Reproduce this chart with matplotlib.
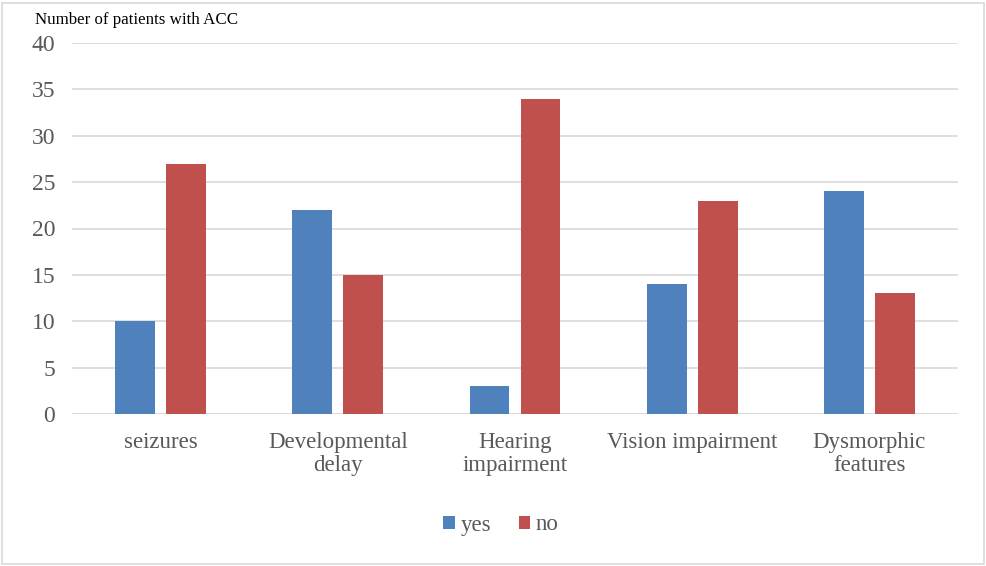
import matplotlib.pyplot as plt
import numpy as np
from matplotlib.patches import Rectangle

plt.rcParams["font.family"] = ["Liberation Serif", "DejaVu Serif"]

categories = ["seizures", "Developmental\ndelay", "Hearing\nimpairment",
              "Vision impairment", "Dysmorphic\nfeatures"]
yes_vals = [10, 22, 3, 14, 24]
no_vals = [27, 15, 34, 23, 13]

blue = "#4F81BD"
red = "#C0504D"
text_col = "#595959"

fig = plt.figure(figsize=(9.86, 5.66), dpi=100)
ax = fig.add_axes([72 / 986, 1 - 414 / 566, 886 / 986, 371 / 566])

x = np.arange(len(categories))
w = 0.225
off = 0.144
ax.bar(x - off, yes_vals, w, color=blue, label="yes", zorder=3)
ax.bar(x + off, no_vals, w, color=red, label="no", zorder=3)

ax.set_xlim(-0.5, len(categories) - 0.5)
ax.set_ylim(0, 40)
ax.set_yticks(range(0, 41, 5))
ax.yaxis.grid(True, color="#D9D9D9", linewidth=1.2, zorder=0)
for s in ax.spines.values():
    s.set_visible(False)
ax.axhline(0, color="#D9D9D9", linewidth=1.2, zorder=2)
ax.tick_params(axis="both", length=0, colors=text_col)
ax.tick_params(axis="y", pad=12, labelsize=17)
ax.tick_params(axis="x", pad=13, labelsize=16.5)
ax.set_xticks(x)
ax.set_xticklabels(categories, linespacing=1.15)

fig.text(35 / 986, 1 - 20 / 566, "Number of patients with ACC",
         fontsize=12.2, color="black", va="center", ha="left")

leg = fig.legend(loc="center", bbox_to_anchor=(501 / 986, 1 - 525 / 566),
                 ncol=2, frameon=False, fontsize=16.5, handlelength=0.5,
                 handleheight=0.5, handletextpad=0.25, columnspacing=1.2)
for t in leg.get_texts():
    t.set_color(text_col)

fig.patches.append(Rectangle((2 / 986, 2 / 566), 982 / 986, 561 / 566,
                             transform=fig.transFigure, fill=False,
                             edgecolor="#D9D9D9", linewidth=1.2))

fig.savefig("out.png", dpi=100)
